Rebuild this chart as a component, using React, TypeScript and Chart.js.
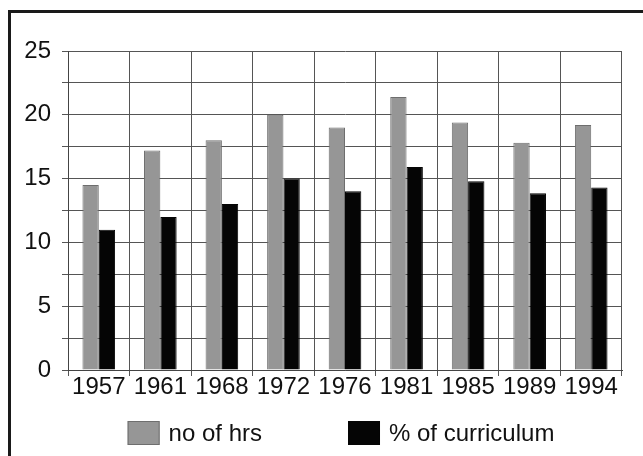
import React, { useEffect, useRef } from "react";
import { Chart, registerables } from "chart.js";

Chart.register(...registerables);

const years = ["1957", "1961", "1968", "1972", "1976", "1981", "1985", "1989", "1994"];
const hours = [14.5, 17.2, 18, 20, 19, 21.4, 19.4, 17.8, 19.2];
const curriculum = [11, 12, 13, 15, 14, 15.9, 14.8, 13.85, 14.3];
const seriesLabels = ["no of hrs", "% of curriculum"];
const yTicks = [0, 5, 10, 15, 20, 25];

const FONT = "'Liberation Sans', Arial, sans-serif";

const framePlugin = {
  id: "frame",
  beforeDraw(chart: any) {
    const ctx = chart.ctx;
    ctx.save();
    ctx.fillStyle = "#ffffff";
    ctx.fillRect(0, 0, chart.width, chart.height);
    ctx.fillStyle = "#1a1a1a";
    ctx.fillRect(8, 10, chart.width, 3);
    ctx.fillRect(8, 10, 3, chart.height);
    ctx.restore();
  },
};

const legendPlugin = {
  id: "customLegend",
  afterDraw(chart: any) {
    const ctx = chart.ctx;
    const ds = chart.data.datasets;
    const boxW = 32;
    const boxH = 24;
    const gap = 9;
    const spacing = 86;
    ctx.save();
    ctx.font = `24px ${FONT}`;
    const widths = ds.map((d: any) => boxW + gap + ctx.measureText(d.label).width);
    const total = widths.reduce((a: number, b: number) => a + b, 0) + spacing * (ds.length - 1);
    const cx = (chart.chartArea.left + chart.chartArea.right) / 2 - 4;
    let x = cx - total / 2;
    const top = 421;
    ds.forEach((d: any, i: number) => {
      ctx.fillStyle = d.backgroundColor;
      ctx.fillRect(x, top, boxW, boxH);
      ctx.strokeStyle = d.borderColor;
      ctx.lineWidth = 1;
      ctx.strokeRect(x + 0.5, top + 0.5, boxW - 1, boxH - 1);
      ctx.fillStyle = "#111111";
      ctx.textBaseline = "middle";
      ctx.textAlign = "left";
      ctx.fillText(d.label, x + boxW + gap, top + boxH / 2 + 1);
      x += widths[i] + spacing;
    });
    ctx.restore();
  },
};

export default function App() {
  const ref = useRef<HTMLCanvasElement | null>(null);

  useEffect(() => {
    if (!ref.current) return;
    const chart = new Chart(ref.current, {
      type: "bar",
      data: {
        labels: years,
        datasets: [
          {
            label: seriesLabels[0],
            data: hours,
            backgroundColor: "#969696",
            borderColor: "#6e6e6e",
            borderWidth: 1,
            categoryPercentage: 0.53,
            barPercentage: 1,
          },
          {
            label: seriesLabels[1],
            data: curriculum,
            backgroundColor: "#050505",
            borderColor: "#050505",
            borderWidth: 1,
            categoryPercentage: 0.53,
            barPercentage: 1,
          },
        ],
      },
      options: {
        responsive: false,
        animation: false,
        layout: { padding: { left: 0, right: 21, top: 51, bottom: 54 } },
        plugins: {
          legend: { display: false },
          tooltip: { enabled: false },
          title: { display: false },
        },
        scales: {
          x: {
            grid: {
              offset: true,
              color: "#555555",
              lineWidth: 1,
              tickLength: 6,
              drawTicks: true,
            },
            border: { display: true, color: "#444444", width: 1 },
            ticks: {
              font: { family: FONT, size: 24 },
              color: "#111111",
              padding: -3,
              maxRotation: 0,
              autoSkip: false,
            },
            afterFit(scale: any) {
              scale.height = 32;
            },
          },
          y: {
            min: 0,
            max: 25,
            grid: { color: "#555555", lineWidth: 1, tickLength: 6 },
            border: { display: true, color: "#444444", width: 1 },
            ticks: {
              stepSize: 2.5,
              font: { family: FONT, size: 24 },
              color: "#111111",
              padding: 11,
              callback: (v: any) => (yTicks.includes(Number(v)) ? String(v) : ""),
            },
            afterFit(scale: any) {
              scale.width = 68;
            },
          },
        },
      },
      plugins: [framePlugin, legendPlugin],
    });
    return () => chart.destroy();
  }, []);

  return (
    <div style={{ position: "fixed", left: 0, top: 0, width: 643, height: 456 }}>
      <canvas ref={ref} width={643} height={456} style={{ display: "block" }} />
    </div>
  );
}
